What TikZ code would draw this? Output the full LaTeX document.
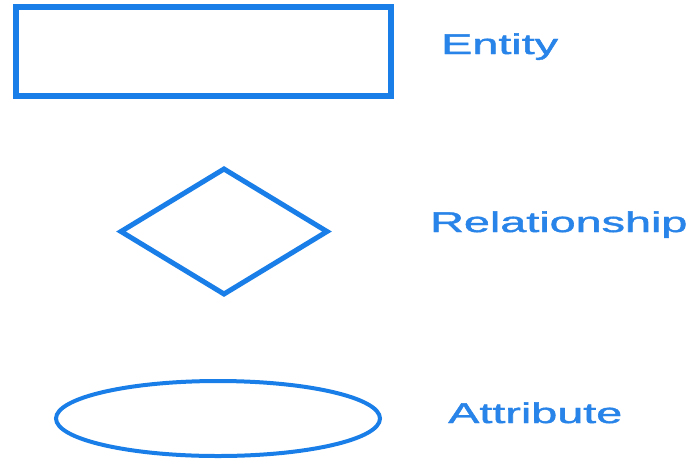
\documentclass[tikz,border=0pt]{standalone}
\usepackage{fontspec}
\setmainfont{Liberation Sans}[BoldFont=Liberation Sans, BoldFeatures={FakeBold=1.3}]
\usetikzlibrary{shapes.geometric}
\definecolor{erblue}{RGB}{26,126,232}
\definecolor{txtblue}{RGB}{40,132,232}
\begin{document}
\begin{tikzpicture}[x=1pt,y=-1pt,
  shapebox/.style={draw=erblue, inner sep=0pt, outer sep=0pt},
  label/.style={text=txtblue, inner sep=0pt, anchor=base west, font=\fontsize{28.5}{30}\selectfont\bfseries}]
\useasboundingbox[fill=white] (0,0) rectangle (691,459);
\node[shapebox, rectangle, line width=6.5pt, minimum width=375pt, minimum height=89pt] (entity) at (203.5,51.5) {};
\node[shapebox, diamond, line width=5pt, minimum width=206pt, minimum height=125pt] (rel) at (224,231.5) {};
\node[shapebox, ellipse, line width=4pt, minimum width=324pt, minimum height=75pt] (attr) at (218,418.5) {};
\node[label] (tentity) at (441,54) {\scalebox{1.64}[1]{Entity}};
\node[label] (trel) at (430,232) {\scalebox{1.64}[1]{Relationship}};
\node[label] (tattr) at (448,423) {\scalebox{1.64}[1]{Attribute}};
\end{tikzpicture}
\end{document}
